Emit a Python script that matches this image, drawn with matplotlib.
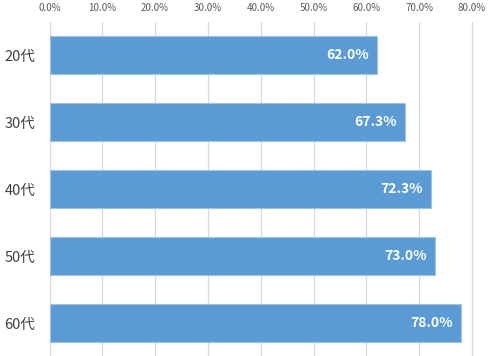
import matplotlib
matplotlib.use("Agg")
import matplotlib.pyplot as plt
from matplotlib.ticker import PercentFormatter

plt.rcParams['font.family'] = ['Noto Sans CJK JP', 'DejaVu Sans']

categories = ["20代", "30代", "40代", "50代", "60代"]
values = [62.0, 67.3, 72.3, 73.0, 78.0]
xticks = [0, 10, 20, 30, 40, 50, 60, 70, 80]

fig = plt.figure(figsize=(5, 3.56), dpi=100)
ax = fig.add_axes([0.099, -0.0014, 0.845, 0.941])

ypos = list(range(len(categories)))
bars = ax.barh(ypos, values, height=0.57, color="#5B9BD5", edgecolor="#9DC3E6", linewidth=0.8, zorder=3)
ax.set_ylim(len(categories) - 0.5, -0.5)
ax.set_xlim(0, 80)
ax.set_xticks(xticks)
ax.xaxis.set_major_formatter(PercentFormatter(decimals=1))
ax.xaxis.tick_top()
ax.tick_params(axis='x', length=0, labelsize=7, labelcolor="#595959", pad=6)
ax.set_yticks(ypos)
ax.set_yticklabels(categories)
ax.tick_params(axis='y', length=0, labelsize=10.5, labelcolor="#404040", pad=10)
ax.grid(axis='x', color="#D9D9D9", linewidth=0.9, zorder=0)
for gl in ax.get_xgridlines():
    gl.set_clip_on(False)
for s in ax.spines.values():
    s.set_visible(False)

for b, v in zip(bars, values):
    ax.annotate(f"{v:.1f}%", xy=(b.get_width(), b.get_y() + b.get_height() / 2),
                xytext=(-6, 0), textcoords="offset points", ha="right", va="center",
                color="white", fontsize=10, fontweight="bold", zorder=4)

fig.savefig("out.png", dpi=100)
